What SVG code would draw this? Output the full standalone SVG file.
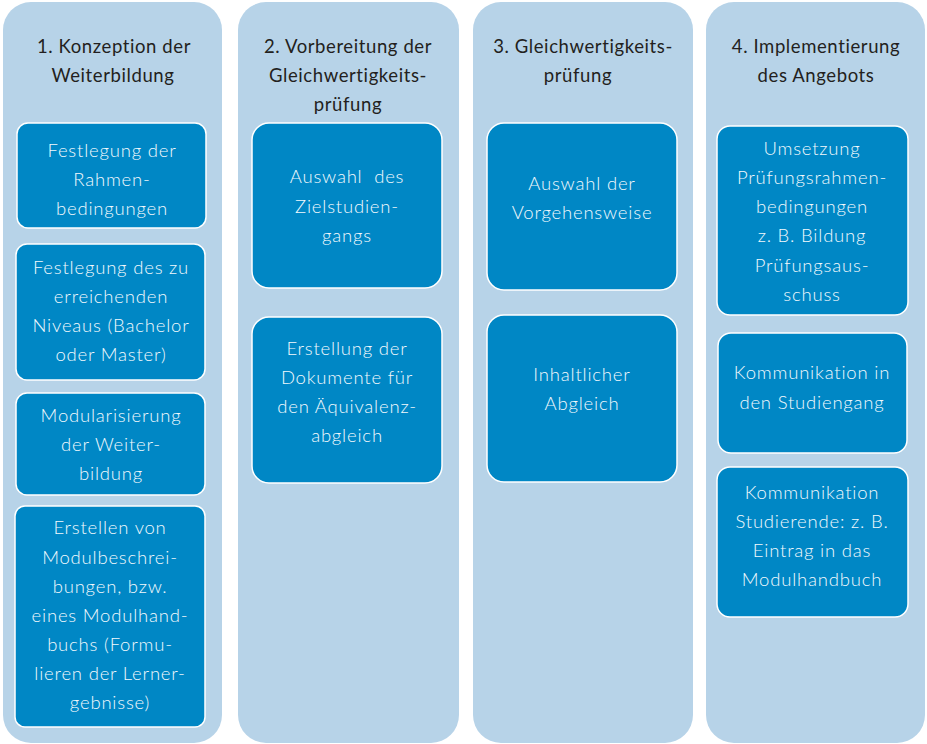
<svg xmlns="http://www.w3.org/2000/svg" width="927" height="744" viewBox="0 0 927 744">
<style>
.col{fill:#B7D3E8}
.box{fill:#0087C5;stroke:#FFFFFF;stroke-width:1.5}
.h{font-family:Lato,"Open Sans",sans-serif;font-weight:400;font-size:18.5px;fill:#231F20;text-anchor:middle;letter-spacing:0.6px}
.t{font-family:Lato,"Open Sans",sans-serif;font-weight:300;font-size:18.5px;fill:#F2F9FD;text-anchor:middle;letter-spacing:0.8px}
</style>
<rect width="927" height="744" fill="#FFFFFF"/>
<g id="col1">
<rect class="col" x="3" y="2" width="219" height="741" rx="28"/>
<text class="h" x="114" y="53">1. Konzeption der</text>
<text class="h" x="113" y="82">Weiterbildung</text>
</g>
<g id="col2">
<rect class="col" x="238" y="2" width="221" height="741" rx="28"/>
<text class="h" x="348" y="53">2. Vorbereitung der</text>
<text class="h" x="348" y="82">Gleichwertigkeits-</text>
<text class="h" x="348" y="111">prüfung</text>
</g>
<g id="col3">
<rect class="col" x="473" y="2" width="220" height="741" rx="28"/>
<text class="h" x="583" y="53">3. Gleichwertigkeits-</text>
<text class="h" x="578" y="82">prüfung</text>
</g>
<g id="col4">
<rect class="col" x="706" y="2" width="219" height="741" rx="28"/>
<text class="h" x="816" y="53">4. Implementierung</text>
<text class="h" x="816" y="82">des Angebots</text>
</g>
<g id="b11"><rect class="box" x="17" y="123" width="189" height="105" rx="11"/>
<text class="t" x="112" y="157">Festlegung der</text><text class="t" x="112" y="186">Rahmen-</text><text class="t" x="112" y="215">bedingungen</text></g>
<g id="b12"><rect class="box" x="16" y="244" width="189" height="136" rx="11"/>
<text class="t" x="111" y="274">Festlegung des zu</text><text class="t" x="111" y="303">erreichenden</text><text class="t" x="111" y="332">Niveaus (Bachelor</text><text class="t" x="111" y="361">oder Master)</text></g>
<g id="b13"><rect class="box" x="16" y="393" width="189" height="102" rx="11"/>
<text class="t" x="111" y="422">Modularisierung</text><text class="t" x="111" y="451">der Weiter-</text><text class="t" x="111" y="480">bildung</text></g>
<g id="b14"><rect class="box" x="15" y="506" width="190" height="221" rx="10"/>
<text class="t" x="110" y="534">Erstellen von</text><text class="t" x="110" y="564">Modulbeschrei-</text><text class="t" x="110" y="593">bungen, bzw.</text><text class="t" x="110" y="622">eines Modulhand-</text><text class="t" x="110" y="651">buchs (Formu-</text><text class="t" x="110" y="680">lieren der Lerner-</text><text class="t" x="110" y="709">gebnisse)</text></g>
<g id="b21"><rect class="box" x="252" y="123" width="190" height="165" rx="17"/>
<text class="t" x="347" y="183">Auswahl&#160; des</text><text class="t" x="347" y="213">Zielstudien-</text><text class="t" x="347" y="242">gangs</text></g>
<g id="b22"><rect class="box" x="252" y="317" width="190" height="166" rx="17"/>
<text class="t" x="347" y="355">Erstellung der</text><text class="t" x="347" y="384">Dokumente für</text><text class="t" x="347" y="413">den Äquivalenz-</text><text class="t" x="347" y="442">abgleich</text></g>
<g id="b31"><rect class="box" x="487" y="123" width="190" height="167" rx="17"/>
<text class="t" x="582" y="190">Auswahl der</text><text class="t" x="582" y="219">Vorgehensweise</text></g>
<g id="b32"><rect class="box" x="487" y="315" width="190" height="167" rx="17"/>
<text class="t" x="582" y="381">Inhaltlicher</text><text class="t" x="582" y="410">Abgleich</text></g>
<g id="b41"><rect class="box" x="717" y="126" width="191" height="189" rx="13"/>
<text class="t" x="812" y="155">Umsetzung</text><text class="t" x="812" y="184">Prüfungsrahmen-</text><text class="t" x="812" y="213">bedingungen</text><text class="t" x="812" y="242">z. B. Bildung</text><text class="t" x="812" y="272">Prüfungsaus-</text><text class="t" x="812" y="301">schuss</text></g>
<g id="b42"><rect class="box" x="718" y="333" width="189" height="120" rx="13"/>
<text class="t" x="812" y="379">Kommunikation in</text><text class="t" x="812" y="409">den Studiengang</text></g>
<g id="b43"><rect class="box" x="717" y="467" width="191" height="150" rx="13"/>
<text class="t" x="812" y="499">Kommunikation</text><text class="t" x="812" y="528">Studierende: z. B.</text><text class="t" x="812" y="557">Eintrag in das</text><text class="t" x="812" y="586">Modulhandbuch</text></g>
<g id="connectors"></g>
</svg>
